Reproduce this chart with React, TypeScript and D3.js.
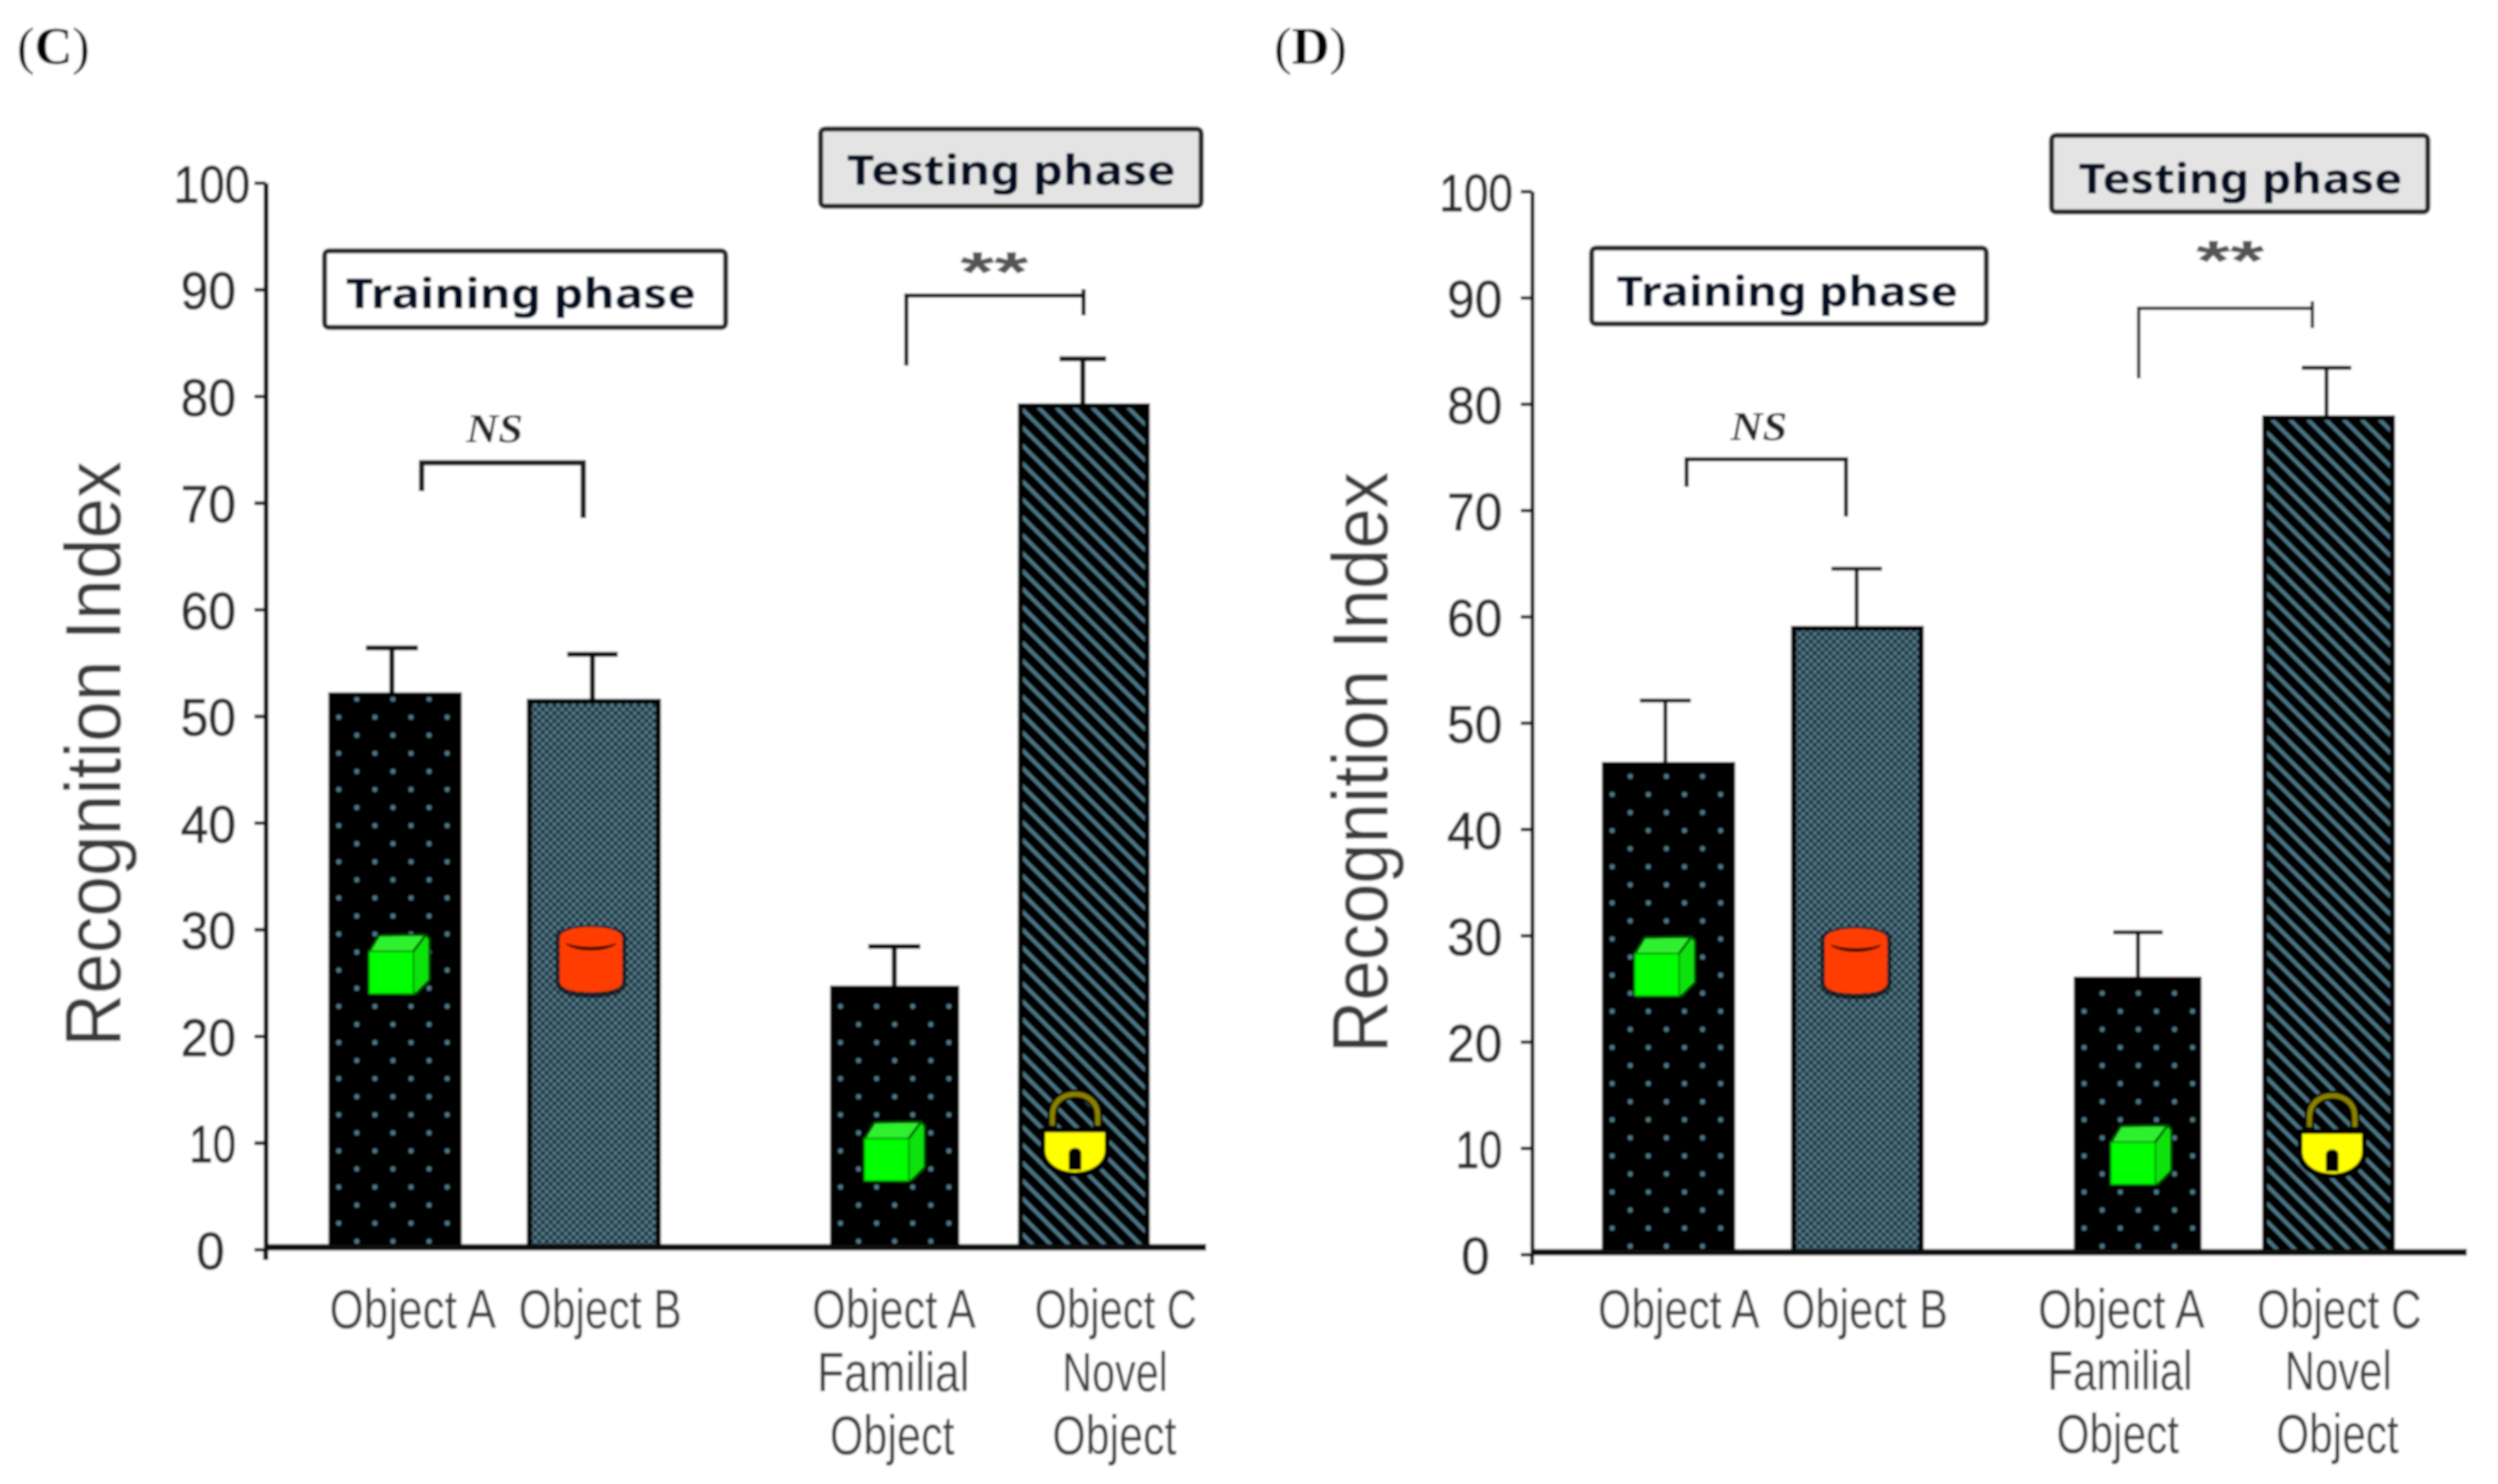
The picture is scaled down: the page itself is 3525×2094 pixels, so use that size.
import React, { useEffect, useRef } from 'react';
import * as d3 from 'd3';

const SANS = '"Liberation Sans", Arial, sans-serif';
const TITLE = '"Noto Sans", "Liberation Sans", sans-serif';
const SERIF = '"Liberation Serif", "Times New Roman", serif';

// ---- data ----
const barKeys = ['trainA', 'trainB', 'testA', 'testC'];
const categoryLines = [['Object A'], ['Object B'], ['Object A', 'Familial', 'Object'], ['Object C', 'Novel', 'Object']];
const valuesC = [52.2, 51.6, 24.7, 79.3];
const upperC = [56.4, 55.8, 28.4, 83.5];
const valuesD = [46.3, 59.1, 26.1, 78.9];
const upperD = [52.1, 64.5, 30.3, 83.4];
const yTicks = [0, 10, 20, 30, 40, 50, 60, 70, 80, 90, 100];
const fills = ['dots', 'check', 'dots', 'hatch'];
const icons = ['cube', 'cylinder', 'cube', 'lock'];

const TEAL = '#507a8a';

type Panel = any;
const panels: Panel[] = [
  {
    id: 'C', letter: 'C', letterX: 24, values: valuesC, upper: upperC,
    axisX: 375, y0: 1763, y100: 258, baseY: 1760, axisEnd: 1702,
    lefts: [464, 744, 1172, 1437], rights: [651, 932, 1353, 1622],
    errX: [553, 836, 1262, 1528], capW: [73, 71, 73, 66],
    iconX: [563, 834, 1262, 1517], iconY: [1361, 1354, 1625, 1600],
    ylabelX: 170, ylabelY: 1064, ylabelLen: 826,
    tick100Right: -22, tick100W: 108, tickRight: -42, tick0Right: -58,
    xRanges: [
      [[465, 700]], [[732, 962]],
      [[1146, 1377], [1153, 1368], [1171, 1347]],
      [[1460, 1689], [1499, 1648], [1485, 1660]],
    ],
    xBase: [1874, 1963, 2052],
    train: { x: 458, y: 354, w: 566, h: 108, tx: 488, tw: 494, base: 435 },
    test: { x: 1158, y: 182, w: 537, h: 109, tx: 1195, tw: 464, base: 261 },
    ns: { l: 595, r: 823, top: 653, lb: 693, rb: 731, tx: 698, base: 624 },
    sig: { l: 1279, r: 1529, top: 417, lb: 516, rb: 445, tick: 408, tx: 1403, base: 411 },
    lw: 7, axisW: 7,
  },
  {
    id: 'D', letter: 'D', letterX: 1798, values: valuesD, upper: upperD,
    axisX: 2162, y0: 1770, y100: 270, baseY: 1767, axisEnd: 3481,
    lefts: [2261, 2528, 2927, 3193], rights: [2448, 2714, 3106, 3379],
    errX: [2350, 2620, 3017, 3283], capW: [72, 71, 70, 70],
    iconX: [2349, 2619, 3021, 3291], iconY: [1364, 1356, 1630, 1602],
    ylabelX: 1958, ylabelY: 1076, ylabelLen: 820,
    tick100Right: -27, tick100W: 104, tickRight: -42, tick0Right: -60,
    xRanges: [
      [[2255, 2483]], [[2514, 2749]],
      [[2876, 3111], [2889, 3094], [2902, 3075]],
      [[3185, 3417], [3224, 3375], [3212, 3385]],
    ],
    xBase: [1874, 1961, 2050],
    train: { x: 2246, y: 350, w: 557, h: 107, tx: 2281, tw: 482, base: 432 },
    test: { x: 2895, y: 191, w: 531, h: 108, tx: 2933, tw: 457, base: 273 },
    ns: { l: 2380, r: 2605, top: 648, lb: 687, rb: 729, tx: 2482, base: 621 },
    sig: { l: 3018, r: 3263, top: 435, lb: 534, rb: 463, tick: 425, tx: 3147, base: 395 },
    lw: 5.5, axisW: 5.5,
  },
];

function Cube({ x, y }: { x: number; y: number }) {
  // anchored on the centre of its bounding box
  return (
    <g transform={`translate(${x},${y})`} stroke="#004a00" strokeWidth={3} strokeLinejoin="round">
      <path d="M-42,-18 L-28,-41 L38,-42 L20,-18 Z" fill="#2df02d" />
      <path d="M20,-18 L38,-42 L43,-36 L43,22 L24,41 L20,41 Z" fill="#0fe20f" />
      <rect x={-42} y={-18} width={62} height={59} fill="#00ff00" stroke="#00b000" strokeWidth={2} />
    </g>
  );
}

function Cylinder({ x, y }: { x: number; y: number }) {
  return (
    <g transform={`translate(${x},${y})`}>
      <path d="M-50,-32 C-50,-54 50,-54 50,-32 L50,32 C50,44 36,54 0,54 C-36,54 -50,44 -50,32 Z" fill="#000" opacity={0.6} />
      <path d="M-44,-32 L-44,30 C-44,42 -26,46 0,46 C26,46 44,42 44,30 L44,-32 Z" fill="#ff3c00" />
      <path d="M-34,-24 C-18,-13 18,-13 34,-24" fill="none" stroke="#3a0c00" strokeWidth={6} />
      <ellipse cx={0} cy={-32} rx={44} ry={14} fill="#ff3c00" />
    </g>
  );
}

function Lock({ x, y }: { x: number; y: number }) {
  return (
    <g transform={`translate(${x},${y})`}>
      <path d="M-32,-8 L-32,-26 C-32,-66 32,-66 32,-26 L32,-8" fill="none" stroke="#000" strokeWidth={14} />
      <path d="M-32,-12 L-32,-26 C-32,-66 32,-66 32,-26 L32,-12" fill="none" stroke="#8c8200" strokeWidth={7} />
      <path d="M-49,-9 L49,-9 L49,28 C49,46 28,61 0,61 C-28,61 -49,46 -49,28 Z" fill="#000" />
      <path d="M-42,-2 L42,-2 L42,24 C42,40 24,54 0,54 C-24,54 -42,40 -42,24 Z" fill="#ffff00" />
      <path d="M-9,51 L-9,28 C-9,17 9,17 9,28 L9,51 Z" fill="#050500" />
    </g>
  );
}

function Chart({ p }: { p: Panel }) {
  const axisRef = useRef<SVGGElement | null>(null);
  const y = d3.scaleLinear().domain([0, 100]).range([p.y0, p.y100]);
  const left = d3.scaleOrdinal<string, number>().domain(barKeys).range(p.lefts);
  const right = d3.scaleOrdinal<string, number>().domain(barKeys).range(p.rights);
  const errX = d3.scaleOrdinal<string, number>().domain(barKeys).range(p.errX);
  const line = d3.line();
  const inset = 3;

  useEffect(() => {
    const g = d3.select(axisRef.current as SVGGElement);
    g.call(d3.axisLeft(y).tickValues(yTicks).tickSizeInner(16).tickSizeOuter(0) as any);
    g.select('.domain').attr('stroke', '#111').attr('stroke-width', p.axisW);
    g.selectAll('.tick line').attr('stroke', '#111').attr('stroke-width', 5);
    g.selectAll<SVGTextElement, number>('.tick text')
      .attr('font-family', SANS)
      .attr('font-size', 75)
      .attr('fill', '#2a2a2a')
      .attr('stroke', '#2a2a2a')
      .attr('stroke-width', 1)
      .attr('dy', '0.36em')
      .attr('x', (d) => (d === 100 ? p.tick100Right : d === 0 ? p.tick0Right : p.tickRight))
      .attr('textLength', (d) => (d === 100 ? p.tick100W : d === 0 ? 40 : d === 10 ? 66 : 78))
      .attr('lengthAdjust', 'spacingAndGlyphs');
  }, []);

  const T = p.test;
  const Tr = p.train;
  return (
    <g>
      <text x={p.letterX} y={90} fontFamily={SERIF} fontSize={74} fill="#000">
        (<tspan fontWeight="bold">{p.letter}</tspan>)
      </text>

      <text
        transform={`translate(${p.ylabelX},${p.ylabelY}) rotate(-90)`}
        textAnchor="middle"
        fontFamily={SANS}
        fontSize={112}
        fill="#3a3a3a"
        textLength={p.ylabelLen}
        lengthAdjust="spacingAndGlyphs"
      >
        Recognition Index
      </text>

      {barKeys.map((k, i) => {
        const x0 = left(k) + inset;
        const w = right(k) - left(k) - 2 * inset;
        const top = y(p.values[i]) + inset;
        const cx = errX(k);
        const size = fills[i] === 'dots' ? 51 : fills[i] === 'hatch' ? 25.3 : 10.8;
        return (
          <g key={k}>
            <path d={line([[cx, top], [cx, y(p.upper[i])]]) as string} stroke="#111" strokeWidth={p.lw} fill="none" />
            <path
              d={line([[cx - p.capW[i] / 2, y(p.upper[i])], [cx + p.capW[i] / 2, y(p.upper[i])]]) as string}
              stroke="#111"
              strokeWidth={p.lw}
              fill="none"
            />
            <pattern id={`bar-${p.id}-${i}`} patternUnits="userSpaceOnUse" width={size} height={size}
              patternTransform={`translate(${x0 + 11},${p.baseY - 238})`}>
              {fills[i] === 'dots' && (
                <g>
                  <rect width={51} height={51} fill="#000" />
                  <circle cx={0} cy={0} r={3.4} fill={TEAL} />
                  <circle cx={51} cy={0} r={3.4} fill={TEAL} />
                  <circle cx={0} cy={51} r={3.4} fill={TEAL} />
                  <circle cx={51} cy={51} r={3.4} fill={TEAL} />
                  <circle cx={25.5} cy={25.5} r={3.4} fill={TEAL} />
                </g>
              )}
              {fills[i] === 'hatch' && (
                <g>
                  <rect width={25.3} height={25.3} fill="#000" />
                  <path d="M-5,-5 L30.3,30.3 M-5,20.3 L5,30.3 M20.3,-5 L30.3,5" stroke={TEAL} strokeWidth={5} />
                </g>
              )}
              {fills[i] === 'check' && (
                <g>
                  <rect width={10.8} height={10.8} fill="#527c8b" />
                  <rect width={5.4} height={5.4} fill="#1c2c33" />
                  <rect x={5.4} y={5.4} width={5.4} height={5.4} fill="#1c2c33" />
                </g>
              )}
            </pattern>
            <rect x={x0} y={top} width={w} height={p.baseY - top}
              fill={`url(#bar-${p.id}-${i})`} stroke="#000" strokeWidth={7} />
          </g>
        );
      })}

      <g ref={axisRef} transform={`translate(${p.axisX},0)`} />
      <path d={line([[p.axisX, p.y0], [p.axisX, p.y0 + 15]]) as string} stroke="#111" strokeWidth={p.axisW} fill="none" />
      <path d={line([[p.axisX, p.baseY], [p.axisEnd, p.baseY]]) as string} stroke="#0a0a0a" strokeWidth={9} fill="none" />

      {icons.map((name, i) =>
        name === 'cube' ? <Cube key={i} x={p.iconX[i]} y={p.iconY[i]} />
          : name === 'cylinder' ? <Cylinder key={i} x={p.iconX[i]} y={p.iconY[i]} />
            : <Lock key={i} x={p.iconX[i]} y={p.iconY[i]} />
      )}

      {categoryLines.map((lines, i) =>
        lines.map((t, j) => {
          const [a, b] = p.xRanges[i][j];
          return (
            <text key={`${i}-${j}`} x={a} y={p.xBase[j]} fontFamily={SANS} fontSize={78} fill="#3c3c3c"
              textLength={b - a} lengthAdjust="spacingAndGlyphs">
              {t}
            </text>
          );
        })
      )}

      <rect x={Tr.x} y={Tr.y} width={Tr.w} height={Tr.h} fill="#fff" stroke="#222" strokeWidth={7} rx={6} />
      <text x={Tr.tx} y={Tr.base} fontFamily={TITLE} fontWeight="bold" fontSize={60} fill="#060a24"
        textLength={Tr.tw} lengthAdjust="spacingAndGlyphs">Training phase</text>
      <rect x={T.x} y={T.y} width={T.w} height={T.h} fill="#e4e4e4" stroke="#222" strokeWidth={7} rx={6} />
      <text x={T.tx} y={T.base} fontFamily={TITLE} fontWeight="bold" fontSize={60} fill="#060a24"
        textLength={T.tw} lengthAdjust="spacingAndGlyphs">Testing phase</text>

      <path d={line([[p.ns.l, p.ns.lb], [p.ns.l, p.ns.top], [p.ns.r, p.ns.top], [p.ns.r, p.ns.rb]]) as string}
        fill="none" stroke="#1a1a1a" strokeWidth={p.lw + 0.5} />
      <text x={p.ns.tx} y={p.ns.base} textAnchor="middle" fontFamily={SERIF} fontStyle="italic" fontWeight="bold"
        fontSize={56} fill="#222" textLength={80} lengthAdjust="spacingAndGlyphs">NS</text>

      <path d={line([[p.sig.l, p.sig.lb], [p.sig.l, p.sig.top], [p.sig.r, p.sig.top]]) as string}
        fill="none" stroke="#111" strokeWidth={p.lw - 1} />
      <path d={line([[p.sig.r, p.sig.tick], [p.sig.r, p.sig.rb]]) as string} fill="none" stroke="#111" strokeWidth={p.lw - 1} />
      <text x={p.sig.tx} y={p.sig.base} textAnchor="middle" fontFamily={SANS} fontWeight="bold" fontSize={80} fill="#555"
        textLength={96} lengthAdjust="spacingAndGlyphs">**</text>
    </g>
  );
}

export default function App() {
  return (
    <svg width={3525} height={2094} viewBox="0 0 3525 2094"
      style={{ position: 'absolute', left: 0, top: 0, background: '#fff' }}>
      <defs>
        <filter id="soft" filterUnits="userSpaceOnUse" x={0} y={0} width={3525} height={2094}>
          <feGaussianBlur stdDeviation={1.6} />
        </filter>
      </defs>
      <g filter="url(#soft)">
        <rect width={3525} height={2094} fill="#fff" />
        {panels.map((p) => <Chart key={p.id} p={p} />)}
      </g>
    </svg>
  );
}
